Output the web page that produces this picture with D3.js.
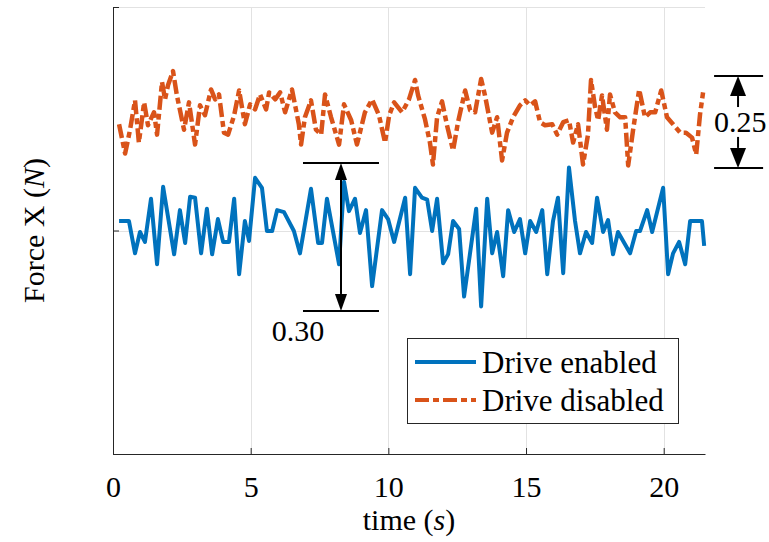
<!DOCTYPE html>
<html>
<head>
<meta charset="utf-8">
<script src="https://cdn.jsdelivr.net/npm/d3@7"></script>
<style>
  body { margin: 0; background: #fff; }
  svg { display: block; }
  text { font-family: "Liberation Serif", "Times New Roman", serif; fill: #000; }
</style>
</head>
<body>
<svg id="chart"></svg>
<script>
// Sample times (s) and force values (N)
const enabledTime = [0.22,0.58,0.80,0.98,1.16,1.38,1.60,1.82,2.22,2.43,2.62,2.80,2.98,3.20,3.41,3.60,3.81,4.00,4.21,4.40,
  4.58,4.79,4.94,5.16,5.41,5.59,5.78,5.96,6.21,6.57,6.79,7.19,7.45,7.59,7.77,8.21,8.39,8.57,8.79,8.97,
  9.19,9.41,9.77,9.99,10.21,10.61,10.79,10.97,11.22,11.41,11.59,11.77,11.99,12.17,12.35,12.57,12.75,13.19,13.37,13.59,
  13.77,13.95,14.17,14.35,14.57,14.78,14.97,15.15,15.37,15.59,15.77,15.98,16.16,16.35,16.56,16.78,16.96,17.18,17.40,17.58,
  17.80,17.98,18.16,18.34,18.78,19.00,19.14,19.40,19.58,19.98,20.16,20.34,20.56,20.78,20.96,21.39,21.47];
const enabledForce = [0.019,0.019,-0.046,-0.003,-0.023,0.064,-0.068,0.088,-0.048,0.041,-0.025,0.068,0.066,-0.046,0.044,-0.048,0.023,-0.023,-0.023,0.064,
  -0.088,0.019,-0.021,0.106,0.086,-0.001,-0.001,0.041,0.037,-0.001,-0.046,0.084,-0.025,-0.025,0.064,-0.068,0.098,0.039,0.064,-0.005,
  0.041,-0.112,0.041,0.023,-0.023,0.066,-0.088,0.086,0.066,0.062,-0.001,0.064,-0.066,-0.048,0.019,0.003,-0.133,0.044,-0.153,0.064,
  -0.046,-0.003,-0.092,0.041,-0.003,0.023,-0.046,0.019,-0.003,0.041,-0.088,0.019,0.066,-0.086,0.127,0.019,-0.046,-0.003,-0.025,0.066,
  -0.003,0.021,-0.048,-0.003,-0.046,-0.001,-0.001,0.041,-0.003,0.086,-0.088,-0.046,-0.023,-0.068,0.019,0.019,-0.031];

const disabledTime = [0.22,0.44,0.62,0.80,0.94,1.13,1.27,1.49,1.60,1.78,1.89,2.00,2.18,2.32,2.58,2.76,2.98,3.16,3.34,3.56,
  3.71,3.85,4.03,4.18,4.40,4.58,4.79,4.98,5.16,5.34,5.56,5.67,5.89,6.07,6.25,6.50,6.75,6.83,6.97,7.19,
  7.37,7.56,7.70,7.92,8.21,8.39,8.65,8.86,9.15,9.41,9.66,9.88,10.03,10.21,10.50,10.75,10.97,11.08,11.33,11.51,
  11.62,11.77,11.95,12.13,12.35,12.53,12.79,12.97,13.15,13.37,13.51,13.77,13.95,14.13,14.31,14.53,14.78,14.97,15.15,15.33,
  15.51,15.69,15.95,16.13,16.35,16.56,16.71,16.89,17.07,17.25,17.36,17.51,17.62,17.76,17.94,18.05,18.23,18.42,18.60,18.71,
  18.89,19.11,19.32,19.51,19.69,19.91,20.12,20.34,20.60,20.81,21.03,21.18,21.32,21.43];
const disabledForce = [0.214,0.155,0.203,0.262,0.177,0.258,0.212,0.238,0.193,0.299,0.264,0.293,0.321,0.272,0.203,0.258,0.173,0.252,0.232,0.284,
  0.264,0.274,0.197,0.193,0.232,0.282,0.214,0.254,0.244,0.274,0.244,0.278,0.264,0.278,0.238,0.284,0.214,0.173,0.228,0.262,
  0.203,0.193,0.274,0.228,0.173,0.254,0.222,0.173,0.238,0.264,0.232,0.177,0.232,0.258,0.238,0.264,0.303,0.272,0.224,0.177,
  0.133,0.228,0.260,0.212,0.161,0.218,0.282,0.242,0.238,0.305,0.272,0.197,0.228,0.141,0.197,0.228,0.252,0.262,0.252,0.260,
  0.218,0.212,0.214,0.193,0.218,0.222,0.177,0.214,0.133,0.193,0.303,0.248,0.222,0.272,0.203,0.274,0.238,0.228,0.228,0.131,
  0.203,0.284,0.228,0.238,0.238,0.282,0.228,0.214,0.197,0.197,0.187,0.153,0.234,0.278];

const xTicks = [0, 5, 10, 15, 20];
const yTicks = [-0.45, 0, 0.45];
const seriesNames = ['Drive enabled', 'Drive disabled'];

// Range annotations: [t left, t right, t arrow, y top, y bottom], label, label anchor [t, y]
const spanEnabled = [6.90, 9.66, 8.28, 0.136, -0.162];
const spanDisabled = [21.83, 23.61, 22.70, 0.311, 0.126];
const spanLabels = ['0.30', '0.25'];
const spanLabelPos = [[6.72, -0.223], [22.78, 0.198]];

const WIDTH = 769, HEIGHT = 542;
const margin = { left: 113, right: 64, top: 7, bottom: 88 };
const COLORS = ['#0072BD', '#D95319'];
const DASH = '14,4,6,4';
const FONT = 30;
const SERIF = '"Liberation Serif", "Times New Roman", serif';

const svg = d3.select('#chart')
  .attr('width', WIDTH)
  .attr('height', HEIGHT)
  .attr('font-family', SERIF);

svg.append('rect').attr('width', WIDTH).attr('height', HEIGHT).attr('fill', '#fff');

const x = d3.scaleLinear().domain([0, 21.5]).range([margin.left, WIDTH - margin.right]);
const y = d3.scaleLinear().domain([-0.45, 0.45]).range([HEIGHT - margin.bottom, margin.top]);

// grid
const grid = svg.append('g').attr('stroke', '#e2e2e2').attr('stroke-width', 1);
grid.selectAll('.vg')
  .data(xTicks.filter(d => d > 0))
  .enter().append('line')
  .attr('x1', d => Math.round(x(d)) + 0.5).attr('x2', d => Math.round(x(d)) + 0.5)
  .attr('y1', y.range()[1]).attr('y2', y.range()[0]);
grid.selectAll('.hg')
  .data(yTicks.filter(d => d > y.domain()[0]))
  .enter().append('line')
  .attr('y1', d => Math.round(y(d)) + 0.5).attr('y2', d => Math.round(y(d)) + 0.5)
  .attr('x1', x.range()[0]).attr('x2', x.range()[1]);

// axes, ticks inside
const xAxis = svg.append('g')
  .attr('transform', `translate(0,${y.range()[0]})`)
  .call(d3.axisBottom(x).tickValues(xTicks).tickSizeInner(-6).tickSizeOuter(0).tickPadding(22));
const yAxis = svg.append('g')
  .attr('transform', `translate(${x.range()[0]},0)`)
  .call(d3.axisLeft(y).tickValues(yTicks).tickSizeInner(-6).tickSizeOuter(0).tickFormat(''));

[xAxis, yAxis].forEach(a => {
  a.attr('font-family', SERIF).attr('font-size', FONT);
  a.select('.domain').attr('stroke', '#262626').attr('stroke-width', 1);
  a.selectAll('.tick line').attr('stroke', '#262626').attr('stroke-width', 1);
  a.selectAll('text').attr('fill', '#000');
});

// axis titles
const xTitle = svg.append('text')
  .attr('x', (x.range()[0] + x.range()[1]) / 2)
  .attr('y', 530)
  .attr('text-anchor', 'middle')
  .attr('font-size', FONT);
xTitle.append('tspan').text('time (');
xTitle.append('tspan').attr('font-style', 'italic').text('s');
xTitle.append('tspan').text(')');

const yTitle = svg.append('text')
  .attr('transform', `translate(44,${y(0)}) rotate(-90)`)
  .attr('text-anchor', 'middle')
  .attr('font-size', FONT);
yTitle.append('tspan').text('Force X (');
yTitle.append('tspan').attr('font-style', 'italic').text('N');
yTitle.append('tspan').text(')');

// series
const line = d3.line().x(d => x(d[0])).y(d => y(d[1]));

svg.append('path')
  .datum(enabledTime.map((t, i) => [t, enabledForce[i]]))
  .attr('d', line)
  .attr('fill', 'none')
  .attr('stroke', COLORS[0])
  .attr('stroke-width', 4)
  .attr('stroke-linejoin', 'round');

svg.append('path')
  .datum(disabledTime.map((t, i) => [t, disabledForce[i]]))
  .attr('d', line)
  .attr('fill', 'none')
  .attr('stroke', COLORS[1])
  .attr('stroke-width', 4.5)
  .attr('stroke-dasharray', DASH)
  .attr('stroke-linejoin', 'round');

// range annotations with arrows
function drawSpan(s, label, pos, headW, headH, gapAroundLabel) {
  const g = svg.append('g').attr('stroke', '#000').attr('stroke-width', 2);
  const ax = x(s[2]), yt = y(s[3]), yb = y(s[4]);
  g.append('line').attr('x1', x(s[0])).attr('x2', x(s[1])).attr('y1', yt).attr('y2', yt);
  g.append('line').attr('x1', x(s[0])).attr('x2', x(s[1])).attr('y1', yb).attr('y2', yb);
  if (!gapAroundLabel) {
    g.append('line').attr('x1', ax).attr('x2', ax).attr('y1', yt + headH).attr('y2', yb - headH);
  } else {
    // shaft broken around the label
    g.append('line').attr('x1', ax).attr('x2', ax).attr('y1', yt + headH).attr('y2', yt + headH + 11);
    g.append('line').attr('x1', ax).attr('x2', ax).attr('y1', yb - headH - 11).attr('y2', yb - headH);
  }
  svg.append('path')
    .attr('d', `M${ax},${yt}L${ax - headW},${yt + headH}L${ax + headW},${yt + headH}Z`)
    .attr('fill', '#000');
  svg.append('path')
    .attr('d', `M${ax},${yb}L${ax - headW},${yb - headH}L${ax + headW},${yb - headH}Z`)
    .attr('fill', '#000');
  svg.append('text')
    .attr('x', x(pos[0])).attr('y', y(pos[1]))
    .attr('text-anchor', 'middle')
    .attr('font-size', FONT)
    .text(label);
}
drawSpan(spanEnabled, spanLabels[0], spanLabelPos[0], 6, 17, false);
drawSpan(spanDisabled, spanLabels[1], spanLabelPos[1], 8, 20, true);

// legend
const legend = svg.append('g').attr('transform', 'translate(407,338)');
legend.append('rect')
  .attr('x', 0.5).attr('y', 0.5)
  .attr('width', 271).attr('height', 85)
  .attr('fill', '#fff')
  .attr('stroke', '#262626')
  .attr('stroke-width', 1);
const item = legend.selectAll('.legend-item')
  .data(seriesNames)
  .enter().append('g')
  .attr('class', 'legend-item')
  .attr('transform', (d, i) => `translate(0,${24 + 38 * i})`);
item.append('line')
  .attr('x1', 8).attr('x2', 69)
  .attr('stroke', (d, i) => COLORS[i])
  .attr('stroke-width', 4)
  .attr('stroke-dasharray', (d, i) => i ? DASH : null);
item.append('text')
  .attr('x', 75).attr('y', 11)
  .attr('font-size', 31)
  .text(d => d);
</script>
</body>
</html>
